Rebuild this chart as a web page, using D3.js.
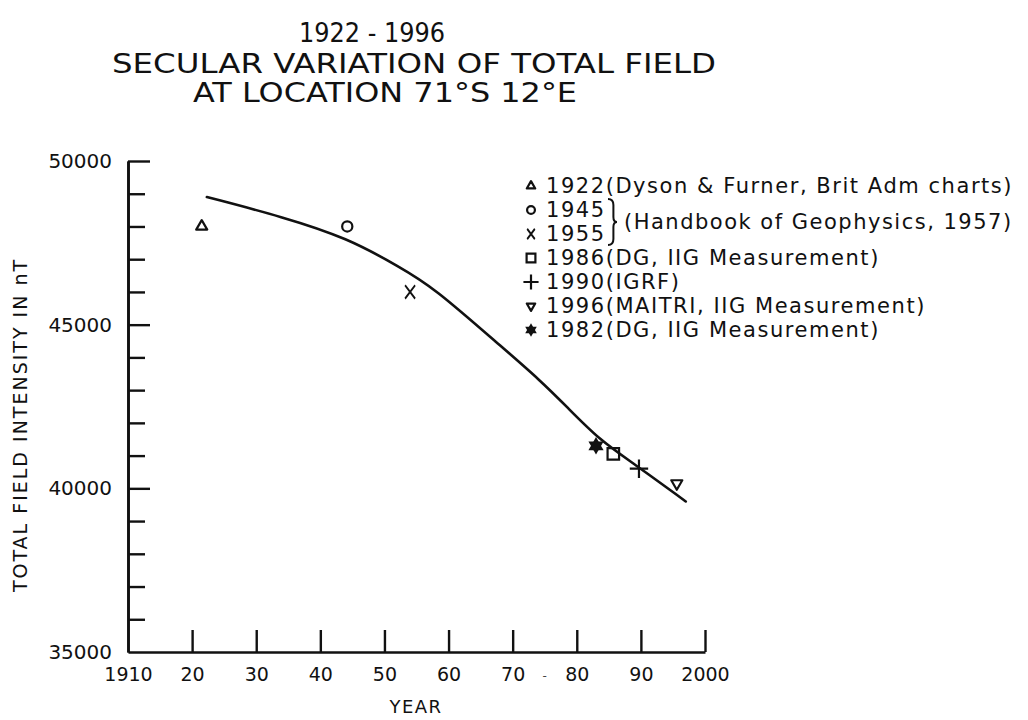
<!DOCTYPE html>
<html><head><meta charset="utf-8">
<script src="https://cdn.jsdelivr.net/npm/d3@7"></script>
<style>body{margin:0;background:#fff}</style>
</head><body>
<svg id="c" width="1028" height="720"></svg>
<script>
// ---- data ----
const titleLines = ["1922 - 1996", "SECULAR VARIATION OF TOTAL FIELD", "AT LOCATION 71°S  12°E"];
const xTickYears = [1910, 1920, 1930, 1940, 1950, 1960, 1970, 1980, 1990, 2000];
const xTickLabels = ["1910", "20", "30", "40", "50", "60", "70", "80", "90", "2000"];
const yLabelTicks = [35000, 40000, 45000, 50000];
const yMinorTicks = [36000, 37000, 38000, 39000, 41000, 42000, 43000, 44000, 46000, 47000, 48000, 49000];
const xTitle = "YEAR";
const yTitle = "TOTAL FIELD INTENSITY IN nT";

// smooth fitted curve
const curveYears  = [1922.3, 1934.2, 1944.2, 1952.4, 1957.6, 1968.0, 1974.3, 1978.5, 1983.6, 1988.8, 1997.0];
const curveValues = [48900, 48290, 47650, 46760, 46150, 44370, 43300, 42480, 41470, 40770, 39600];

// observations (positions as plotted)
const pointYears  = [1921.5, 1944.2, 1954.0, 1985.7, 1989.7, 1995.6, 1983.0];
const pointValues = [48000, 48000, 46000, 41050, 40600, 40150, 41300];
const pointSymbols = ["triangle", "circle", "times", "square", "plus", "triangleDown", "star"];

const legendLabels = [
  "1922(Dyson & Furner, Brit Adm charts)",
  "1945",
  "1955",
  "1986(DG, IIG Measurement)",
  "1990(IGRF)",
  "1996(MAITRI, IIG Measurement)",
  "1982(DG, IIG Measurement)"
];
const legendSymbols = ["triangle", "circle", "times", "square", "plus", "triangleDown", "star"];
const braceNote = "(Handbook of Geophysics, 1957)";

// ---- drawing ----
const svg = d3.select("#c");
const FONT = "'DejaVu Sans', sans-serif";
const x = d3.scaleLinear().domain([1910, 2000]).range([128, 705]);
const y = d3.scaleLinear().domain([35000, 50000]).range([652, 161]);

// title
const titleY = [42, 73, 102];
const titleW = [146, 604, 384];
const titleCx = [372, 414, 385];
titleLines.forEach((t, i) => {
  svg.append("text").attr("x", titleCx[i]).attr("y", titleY[i])
    .attr("text-anchor", "middle")
    .attr("font-family", "'DejaVu Sans', sans-serif")
    .attr("font-size", 26)
    .attr("textLength", titleW[i]).attr("lengthAdjust", "spacingAndGlyphs")
    .attr("fill", "#111").text(t);
});

// axes
const xAxis = d3.axisBottom(x).tickValues(xTickYears).tickSize(-22).tickSizeOuter(0)
  .tickPadding(16).tickFormat((d, i) => xTickLabels[i]);
const gx = svg.append("g").attr("transform", `translate(0,${y(35000)})`).call(xAxis);
gx.selectAll(".tick").filter(d => d === 1910).select("line").remove();

const yMinor = d3.axisLeft(y).tickValues(yMinorTicks).tickSize(-17).tickSizeOuter(0).tickFormat("");
const gyMinor = svg.append("g").attr("transform", `translate(${x(1910)},0)`).call(yMinor);
const yMajor = d3.axisLeft(y).tickValues(yLabelTicks).tickSize(-22).tickSizeOuter(0).tickPadding(16)
  .tickFormat(d3.format("d"));
const gy = svg.append("g").attr("transform", `translate(${x(1910)},0)`).call(yMajor);
gy.selectAll(".tick").filter(d => d === 35000).select("line").remove();

[gx, gyMinor, gy].forEach(g => {
  g.selectAll("path.domain").attr("stroke", "#111").attr("stroke-width", 2.6);
  g.selectAll(".tick line").attr("stroke", "#111").attr("stroke-width", 2.4);
  g.selectAll("text").attr("font-family", FONT).attr("font-size", 19).attr("fill", "#111");
});
gy.selectAll("text").attr("font-size", 20);

// stray dash between 70 and 80 labels
svg.append("text").attr("x", (x(1970) + x(1980)) / 2).attr("y", y(35000) + 28)
  .attr("text-anchor", "middle").attr("font-family", FONT).attr("font-size", 12)
  .attr("fill", "#444").text("-");

// axis titles
svg.append("text").attr("x", 416).attr("y", 713).attr("text-anchor", "middle")
  .attr("font-family", FONT).attr("font-size", 18).attr("letter-spacing", 1.5)
  .attr("fill", "#111").text(xTitle);
svg.append("text").attr("transform", "translate(27,425) rotate(-90)").attr("text-anchor", "middle")
  .attr("font-family", FONT).attr("font-size", 19).attr("letter-spacing", 2)
  .attr("fill", "#111").text(yTitle);

// curve
const line = d3.line().x((d, i) => x(curveYears[i])).y(d => y(d)).curve(d3.curveBasis);
svg.append("path").attr("d", line(curveValues)).attr("fill", "none")
  .attr("stroke", "#111").attr("stroke-width", 2.6).attr("stroke-linecap", "round");

// symbols
function drawSymbol(g, type, cx, cy, s) {
  const sw = 2.2;
  if (type === "triangle" || type === "triangleDown") {
    g.append("path").attr("d", d3.symbol(d3.symbolTriangle, 40 * s * s)())
      .attr("transform", `translate(${cx},${cy})${type === "triangleDown" ? " rotate(180)" : ""}`)
      .attr("fill", "none").attr("stroke", "#111").attr("stroke-width", sw).attr("stroke-linejoin", "round");
  } else if (type === "circle") {
    g.append("path").attr("d", d3.symbol(d3.symbolCircle, 62 * s * s)())
      .attr("transform", `translate(${cx},${cy})`)
      .attr("fill", "none").attr("stroke", "#111").attr("stroke-width", sw);
  } else if (type === "times") {
    g.append("path").attr("d", d3.symbol(d3.symbolTimes || d3.symbolX, 90 * s * s)())
      .attr("transform", `translate(${cx},${cy}) scale(0.75,1)`)
      .attr("fill", "none").attr("stroke", "#111").attr("stroke-width", sw);
  } else if (type === "square") {
    g.append("path").attr("d", d3.symbol(d3.symbolSquare, 100 * s * s)())
      .attr("transform", `translate(${cx},${cy})`)
      .attr("fill", "none").attr("stroke", "#111").attr("stroke-width", sw);
  } else if (type === "plus") {
    g.append("path").attr("d", d3.symbol(d3.symbolPlus || d3.symbolCross, 85 * s * s)())
      .attr("transform", `translate(${cx},${cy})`)
      .attr("fill", "none").attr("stroke", "#111").attr("stroke-width", sw);
  } else if (type === "star") {
    const p = d3.symbol(d3.symbolTriangle, 75 * s * s)();
    g.append("path").attr("d", p).attr("transform", `translate(${cx},${cy})`).attr("fill", "#111");
    g.append("path").attr("d", p).attr("transform", `translate(${cx},${cy}) rotate(180)`).attr("fill", "#111");
  }
}
const gp = svg.append("g");
pointYears.forEach((yr, i) => drawSymbol(gp, pointSymbols[i], x(yr), y(pointValues[i]), 1.15));

// legend
const lg = svg.append("g");
const legX = 531, legTextX = 546, legY0 = 186, legDy = 24;
legendLabels.forEach((t, i) => {
  const cy = legY0 + i * legDy;
  drawSymbol(lg, legendSymbols[i], legX, cy, legendSymbols[i] === "plus" ? 0.95 : 0.88);
  lg.append("text").attr("x", legTextX).attr("y", cy + 7)
    .attr("font-family", FONT).attr("font-size", 21).attr("letter-spacing", 1.55)
    .attr("fill", "#111").text(t);
});
// brace grouping rows 1945 & 1955
const by0 = legY0 + 1 * legDy - 11, by1 = legY0 + 2 * legDy + 11, bx = 608, bw = 9;
const bm = (by0 + by1) / 2;
const brace = d3.path();
brace.moveTo(bx, by0);
brace.quadraticCurveTo(bx + bw * 0.6, by0, bx + bw * 0.6, by0 + 6);
brace.lineTo(bx + bw * 0.6, bm - 5);
brace.quadraticCurveTo(bx + bw * 0.6, bm, bx + bw, bm);
brace.quadraticCurveTo(bx + bw * 0.6, bm, bx + bw * 0.6, bm + 5);
brace.lineTo(bx + bw * 0.6, by1 - 6);
brace.quadraticCurveTo(bx + bw * 0.6, by1, bx, by1);
lg.append("path").attr("d", brace.toString()).attr("fill", "none")
  .attr("stroke", "#111").attr("stroke-width", 2);
lg.append("text").attr("x", 624).attr("y", bm + 7)
  .attr("font-family", FONT).attr("font-size", 21).attr("letter-spacing", 1.5)
  .attr("fill", "#111").text(braceNote);
</script>
</body></html>
